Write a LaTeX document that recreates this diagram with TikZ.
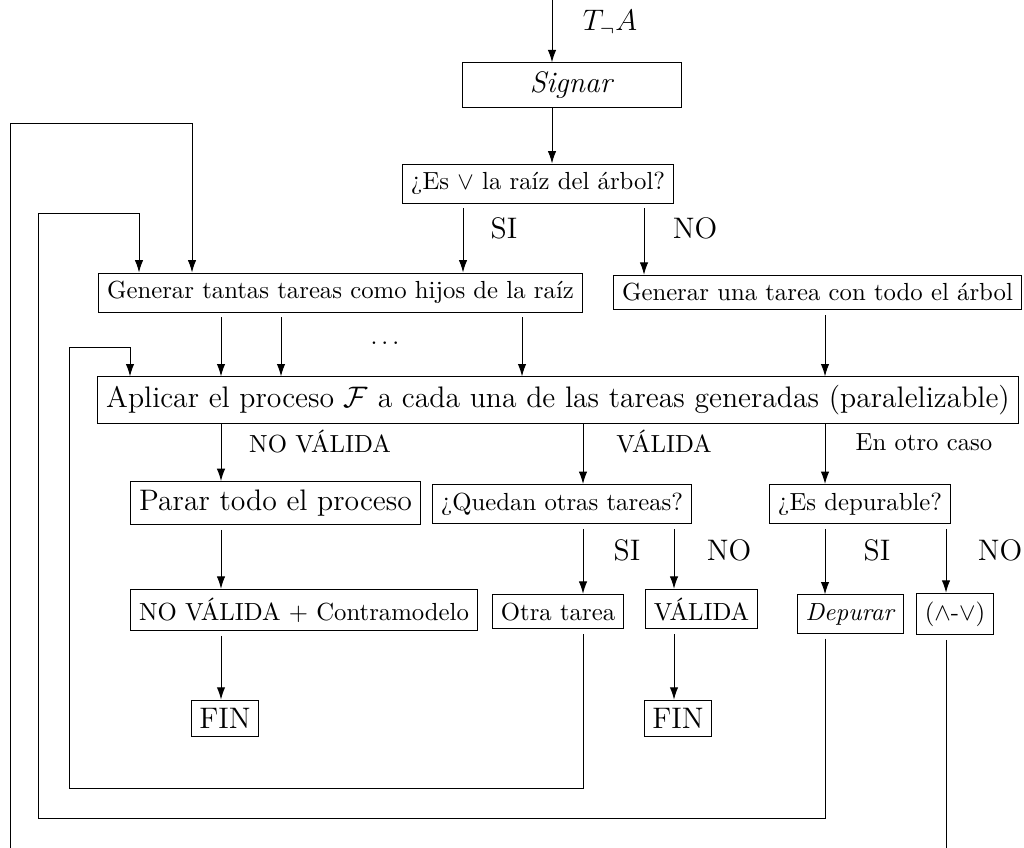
\documentclass[tikz,border=0pt]{standalone}
\usepackage{amsmath}
\usepackage{amssymb}
\usepackage{tikz}
\usetikzlibrary{positioning, arrows.meta}

\begin{document}
\begin{tikzpicture}[
  x=0.01421cm, y=-0.01421cm,
  box/.style={rectangle, draw, thin},
  big/.style={font=\large},
  loose/.style={shorten <=2pt},
  >={Latex[length=5pt, width=3.4pt]}
]
\useasboundingbox (0,0) rectangle (1024,847);

% columns of the vertical connectors
\coordinate (top) at (552,0);
\coordinate (xsi) at (463,0);
\coordinate (xno) at (644,0);
\coordinate (xa) at (221,0);
\coordinate (xb) at (281,0);
\coordinate (xc) at (522,0);
\coordinate (xd) at (825,0);
\coordinate (xe) at (583,0);
\coordinate (xf) at (674,0);
\coordinate (xg) at (946,0);
% corners of the loops
\coordinate (l1b) at (10,880);
\coordinate (l1t) at (192,123);
\coordinate (l2b) at (38,818);
\coordinate (l2t) at (139,213);
\coordinate (l3b) at (69,788);
\coordinate (l3t) at (130,347);

\node[big] (tna) at (610,23) {$T_{\neg}A$};
\node[box, big, minimum width=3.12cm, minimum height=0.63cm] (sig) at (572,85) {\textit{Signar}};
\node[box] (es) at (538,183.5) {¿Es $\vee$ la raíz del árbol?};
\node[big] (si1) at (504,228) {SI};
\node[big] (no1) at (695,228) {NO};
\node[box] (gen) at (340.5,292.5) {Generar tantas tareas como hijos de la raíz};
\node[box] (una) at (817.5,292.5) {Generar una tarea con todo el árbol};
\node (dots) at (387,343) {$\dots$};
\node[box, big] (apl) at (558,400) {Aplicar el proceso $\mathcal{F}$ a cada una de las tareas generadas (paralelizable)};
\node (lnov) at (320,442) {NO VÁLIDA};
\node (lval) at (664,442) {VÁLIDA};
\node (lotro) at (924,442) {En otro caso};
\node[box, big] (parar) at (275.5,503) {Parar todo el proceso};
\node[box, anchor=west] (qued) at (432,504) {¿Quedan otras tareas?};
\node[box] (depb) at (860,504) {¿Es depurable?};
\node[big] (si2) at (627,550) {SI};
\node[big] (no2) at (729,550) {NO};
\node[big] (si3) at (877,550) {SI};
\node[big] (no3) at (1000,550) {NO};
\node[box, anchor=base] (contra) at (304,620) {NO VÁLIDA + Contramodelo};
\node[box, anchor=base] (otra) at (558,620) {Otra tarea};
\node[box, anchor=base] (valida) at (701.5,620) {VÁLIDA};
\node[box, anchor=base] (depu) at (850.5,620) {\textit{Depurar}};
\node[box, anchor=base] (andor) at (955,620) {($\wedge$-$\vee$)};
\node[box, big] (fin1) at (225,718.5) {FIN};
\node[box, big] (fin2) at (678,718.5) {FIN};

\draw[->] (top) -- (sig.north -| top);
\draw[->] (sig.south -| top) -- (es.north -| top);
\draw[->, loose] (es.south -| xsi) -- (gen.north -| xsi);
\draw[->, loose] (es.south -| xno) -- (una.north -| xno);
\foreach \c in {xa, xb, xc}
  \draw[->, loose] (gen.south -| \c) -- (apl.north -| \c);
\draw[->, loose] (una.south -| xd) -- (apl.north -| xd);
\draw[->] (apl.south -| xa) -- (parar.north -| xa);
\draw[->] (apl.south -| xe) -- (qued.north -| xe);
\draw[->] (apl.south -| xd) -- (depb.north -| xd);
\draw[->, loose] (parar.south -| xa) -- (contra.north -| xa);
\draw[->, loose] (contra.south -| xa) -- (fin1.north -| xa);
\draw[->, loose] (qued.south -| xe) -- (otra.north -| xe);
\draw[->, loose] (qued.south -| xf) -- (valida.north -| xf);
\draw[->, loose] (valida.south -| xf) -- (fin2.north -| xf);
\draw[->, loose] (depb.south -| xd) -- (depu.north -| xd);
\draw[->, loose] (depb.south -| xg) -- (andor.north -| xg);
% back to earlier steps
\draw[->, loose] (otra.south -| xe) |- (l3b) |- (l3t) -- (apl.north -| l3t);
\draw[->, loose] (depu.south -| xd) |- (l2b) |- (l2t) -- (gen.north -| l2t);
\draw[->, loose] (andor.south -| xg) |- (l1b) |- (l1t) -- (gen.north -| l1t);

\end{tikzpicture}
\end{document}
